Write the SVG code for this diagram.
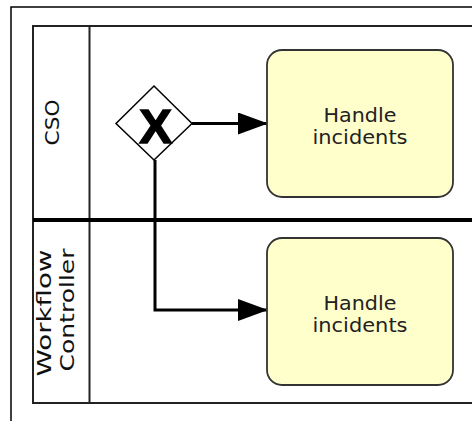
<svg xmlns="http://www.w3.org/2000/svg" width="472" height="421" viewBox="0 0 472 421">
<defs>
<marker id="arrow" viewBox="0 0 30 22" refX="29" refY="11" markerWidth="30" markerHeight="22" markerUnits="userSpaceOnUse" orient="auto">
<path d="M0,0 L30,11 L0,22 Z" fill="#000"/>
</marker>
<style>
.frame{fill:none;stroke:#000;stroke-width:1.5}
.pool{fill:none;stroke:#222;stroke-width:2}
.lane{fill:none;stroke:#000;stroke-width:4}
.lbl{font-family:"DejaVu Sans",sans-serif;fill:#111;font-size:20px;text-anchor:middle}
.task rect{fill:#ffffcc;stroke:#333;stroke-width:1.8}
.task text{font-family:"DejaVu Sans",sans-serif;font-size:19px;fill:#222;text-anchor:middle}
.conn{fill:none;stroke:#000;stroke-width:3}
</style>
</defs>
<rect width="472" height="421" fill="#fff"/>
<g id="frame">
<path class="frame" d="M11,421 V7 H472"/>
</g>
<g id="pool">
<path class="pool" d="M472,26 H33 V403 H472"/>
<line class="pool" x1="89.5" y1="26" x2="89.5" y2="403"/>
</g>
<g id="lane-cso">
<text class="lbl" transform="translate(59,122.5) rotate(-90)" textLength="46" lengthAdjust="spacingAndGlyphs">CSO</text>
</g>
<g id="lane-workflow">
<line class="lane" x1="33" y1="220" x2="472" y2="220"/>
<text class="lbl" transform="translate(51,313) rotate(-90)" textLength="127" lengthAdjust="spacingAndGlyphs">Workflow</text>
<text class="lbl" transform="translate(73.5,310) rotate(-90)" textLength="123" lengthAdjust="spacingAndGlyphs">Controller</text>
</g>
<g id="connectors">
<path class="conn" d="M192,123.5 H267" marker-end="url(#arrow)"/>
<path class="conn" d="M155,160 V310 H267" marker-end="url(#arrow)"/>
</g>
<g id="gateway">
<polygon points="154,86 192,123.5 154,160 116,123.5" fill="#fff" stroke="#000" stroke-width="1.5"/>
<text x="155.5" y="142.5" font-family="Liberation Sans,sans-serif" font-weight="bold" font-size="49" text-anchor="middle" fill="#000" stroke="#000" stroke-width="1.5">X</text>
</g>
<g id="task1" class="task">
<rect x="267" y="50" width="186" height="147" rx="15" ry="15"/>
<text x="360" y="122.3" textLength="73" lengthAdjust="spacingAndGlyphs">Handle</text>
<text x="360" y="144" textLength="95" lengthAdjust="spacingAndGlyphs">incidents</text>
</g>
<g id="task2" class="task">
<rect x="267" y="238" width="186" height="147" rx="15" ry="15"/>
<text x="360" y="310.3" textLength="73" lengthAdjust="spacingAndGlyphs">Handle</text>
<text x="360" y="332" textLength="95" lengthAdjust="spacingAndGlyphs">incidents</text>
</g>
</svg>
